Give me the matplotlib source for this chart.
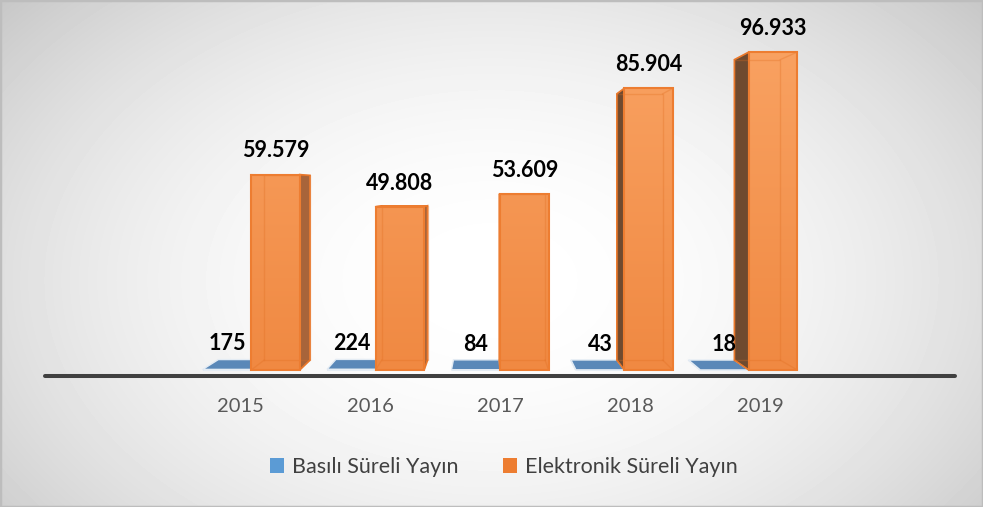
import matplotlib.pyplot as plt
import numpy as np
from matplotlib.patches import Polygon, Rectangle, Patch
from matplotlib.colors import LinearSegmentedColormap

years = ['2015', '2016', '2017', '2018', '2019']
basili = [175, 224, 84, 43, 18]
elektronik = [59579, 49808, 53609, 85904, 96933]
series_names = ['Basılı Süreli Yayın', 'Elektronik Süreli Yayın']

plt.rcParams['font.family'] = ['Lato', 'DejaVu Sans']

W, H = 983, 507
fig = plt.figure(figsize=(W / 100, H / 100), dpi=100)

# radial grey background
bg = fig.add_axes([0, 0, 1, 1], zorder=-5)
yy, xx = np.mgrid[0:H, 0:W]
r2 = ((xx - 491) / 600.0) ** 2 + ((yy - 280) / 400.0) ** 2
shade = np.clip(1 - 0.19 * r2, 0, 1)
bg.imshow(shade, cmap='gray', vmin=0, vmax=1, extent=[0, 1, 0, 1], aspect='auto')
bg.axis('off')

ax = fig.add_axes([45 / W, (H - 376) / H, 910 / W, (376 - 9.2) / H])
ax.patch.set_alpha(0)

# fake 3d: back face = vanishing point + s * (front - vp)
VP = (1.895, 54878)
s = 0.945
w = 0.39


def back(pts):
    return [(VP[0] + s * (x - VP[0]), VP[1] + s * (y - VP[1])) for x, y in pts]


orange_cm = LinearSegmentedColormap.from_list('or', ['#f08942', '#f9a262'])


def bar3d(xc, v, front, side_r, side_l, top, edge, z, grad=False):
    x0, x1 = xc - w / 2, xc + w / 2
    f = [(x0, 0), (x1, 0), (x1, v), (x0, v)]
    b = back(f)
    if b[1][0] > x1:
        ax.add_patch(Polygon([f[1], f[2], b[2], b[1]], closed=True, fc=side_r, ec=edge, lw=1.2, zorder=z))
    if b[0][0] < x0:
        ax.add_patch(Polygon([f[0], f[3], b[3], b[0]], closed=True, fc=side_l, ec=edge, lw=1.2, zorder=z))
    if b[3][1] > v:
        ax.add_patch(Polygon([f[3], f[2], b[2], b[3]], closed=True, fc=top, ec=edge, lw=1.0, zorder=z))
    if grad:
        g = np.linspace(0, v / 100000.0, 200).reshape(-1, 1)
        ax.imshow(g, cmap=orange_cm, vmin=0, vmax=1, extent=[x0, x1, 0, v],
                  origin='lower', aspect='auto', zorder=z + 0.1)
        # back edges showing through the front face
        bx = [p[0] for p in b] + [b[0][0]]
        by = [p[1] for p in b] + [b[0][1]]
        ax.plot(bx, by, color='#e06d20', alpha=0.3, lw=1, zorder=z + 0.15)
        for p, q in zip(f, b):
            ax.plot([p[0], q[0]], [p[1], q[1]], color='#e06d20', alpha=0.3, lw=1, zorder=z + 0.15)
        ax.add_patch(Rectangle((x0, 0), w, v, fc='none', ec=edge, lw=1.5, zorder=z + 0.2))
    else:
        ax.add_patch(Rectangle((x0, 0), w, v, fc=front, ec=edge, lw=0.8, zorder=z + 0.2))


x = np.arange(len(years))
for i in range(len(years)):
    bar3d(x[i] - w / 2, basili[i], '#5a88b8', '#4a6f96', '#4a6f96', '#5a88b8', '#e4ecf4', 2)
    bar3d(x[i] + w / 2, elektronik[i], None, '#a8643a', '#6f4a2f', '#f8b27c', '#ed7d31', 3, grad=True)


def fmt(v):
    return f'{v:,}'.replace(',', '.')


for i in range(len(years)):
    ax.annotate(fmt(elektronik[i]), (x[i] + w / 2, elektronik[i]), xytext=(0, 17),
                textcoords='offset points', ha='center', va='center',
                fontsize=15.5, fontweight='bold', color='black', zorder=10)
    ax.annotate(fmt(basili[i]), (x[i] - w / 2, basili[i]), xytext=(0, 18.5),
                textcoords='offset points', ha='center', va='center',
                fontsize=15.5, fontweight='bold', color='black', zorder=10)

ax.set_xlim(-1.6576, 5.6576)
ax.set_ylim(-1829, 110000)

tick_pos = [VP[0] + 1.045 * (i - VP[0]) for i in x]
ax.set_xticks(tick_pos, years)
ax.set_yticks([])
ax.tick_params(axis='x', length=0, pad=16, labelsize=14.5, labelcolor='#595959')
for side in ['top', 'left', 'right']:
    ax.spines[side].set_visible(False)
ax.spines['bottom'].set_linewidth(2.9)
ax.spines['bottom'].set_color('#404040')
ax.spines['bottom'].set_capstyle('round')

handles = [Patch(fc='#5b9bd5', ec='none'), Patch(fc='#ed7d31', ec='none')]
fig.legend(handles, series_names, loc='center', bbox_to_anchor=(504 / W, 1 - 467 / H),
           ncol=2, frameon=False, fontsize=15.5, handlelength=0.65, handleheight=0.65,
           handletextpad=0.35, columnspacing=2.1, labelcolor='#404040')

fig.add_artist(Rectangle((0, 0), 1, 1, transform=fig.transFigure, fill=False,
                         ec='#bdbdbd', lw=2.5))

fig.savefig('out.png', dpi=100)
